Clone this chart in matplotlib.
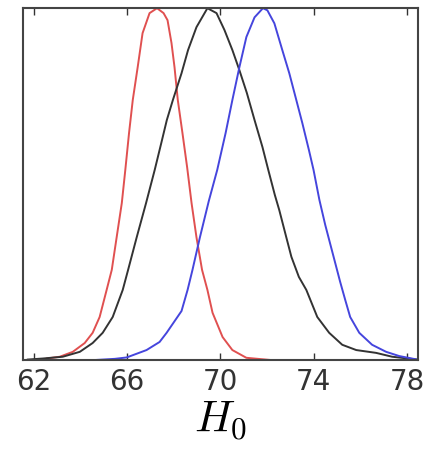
import matplotlib
matplotlib.use("Agg")
import matplotlib.pyplot as plt

plt.rcParams['mathtext.fontset'] = 'cm'

# posterior curves for H0 (normalised to peak = 1)
red_x = [62.56, 63.11, 63.67, 64.18, 64.52, 64.82, 65.12, 65.34, 65.55, 65.77, 65.92, 66.08,
         66.24, 66.45, 66.66, 66.96, 67.28, 67.56, 67.73, 67.90, 68.03, 68.17, 68.37, 68.57,
         68.76, 68.97, 69.21, 69.44, 69.66, 70.09, 70.51, 71.11, 72.10]
red_y = [0.004, 0.009, 0.023, 0.048, 0.077, 0.122, 0.199, 0.256, 0.349, 0.446, 0.540, 0.645,
         0.739, 0.832, 0.929, 0.986, 1.0, 0.986, 0.966, 0.901, 0.832, 0.739, 0.645, 0.548,
         0.446, 0.349, 0.256, 0.199, 0.134, 0.065, 0.028, 0.006, 0.0]

black_x = [61.74, 62.39, 63.24, 63.97, 64.52, 64.95, 65.38, 65.81, 66.04, 66.41, 66.81, 67.18,
           67.46, 67.70, 67.96, 68.33, 68.61, 68.97, 69.44, 69.83, 70.17, 70.51, 70.81, 71.13,
           71.46, 71.80, 72.05, 72.33, 72.52, 72.82, 73.04, 73.36, 73.68, 74.15, 74.66, 75.22,
           75.82, 76.67, 77.36, 78.43]
black_y = [0.001, 0.004, 0.009, 0.023, 0.048, 0.077, 0.122, 0.199, 0.256, 0.349, 0.446, 0.540,
           0.616, 0.682, 0.739, 0.815, 0.881, 0.946, 1.0, 0.986, 0.938, 0.881, 0.824, 0.759,
           0.682, 0.605, 0.540, 0.469, 0.426, 0.349, 0.293, 0.236, 0.199, 0.122, 0.077, 0.043,
           0.028, 0.020, 0.009, 0.001]

blue_x = [64.70, 65.47, 65.98, 66.83, 67.39, 67.69, 68.33, 68.59, 68.80, 69.12, 69.50, 69.86,
          70.22, 70.51, 70.81, 71.11, 71.46, 71.82, 72.01, 72.31, 72.65, 72.95, 73.25, 73.51,
          73.79, 73.99, 74.24, 74.49, 74.83, 75.13, 75.35, 75.56, 75.95, 76.50, 77.10, 77.66,
          78.43]
blue_y = [0.0, 0.003, 0.007, 0.028, 0.051, 0.077, 0.139, 0.199, 0.256, 0.349, 0.452, 0.540,
          0.645, 0.739, 0.832, 0.918, 0.974, 1.0, 0.994, 0.957, 0.881, 0.815, 0.739, 0.673,
          0.597, 0.540, 0.455, 0.384, 0.298, 0.222, 0.170, 0.122, 0.077, 0.043, 0.023, 0.011,
          0.001]

xticks = [62, 66, 70, 74, 78]

fig = plt.figure(figsize=(4.24, 4.55), dpi=100)
ax = fig.add_axes([0.054, 0.209, 0.932, 0.773])

ax.plot(red_x, red_y, color='#e05050', lw=1.4)
ax.plot(black_x, black_y, color='#333333', lw=1.4)
ax.plot(blue_x, blue_y, color='#4545dd', lw=1.4)

ax.set_xlim(61.53, 78.47)
ax.set_ylim(0, 1.0)
ax.set_xticks(xticks)
ax.set_yticks([])
ax.tick_params(axis='x', direction='in', top=True, length=5, width=1, colors='#333333',
               labelsize=20, labelcolor='#333333', pad=6)
for s in ax.spines.values():
    s.set_linewidth(1.5)
    s.set_color('#444444')

ax.set_xlabel(r'$H_0$', fontsize=32, labelpad=2)

fig.savefig("out.png", dpi=100)
